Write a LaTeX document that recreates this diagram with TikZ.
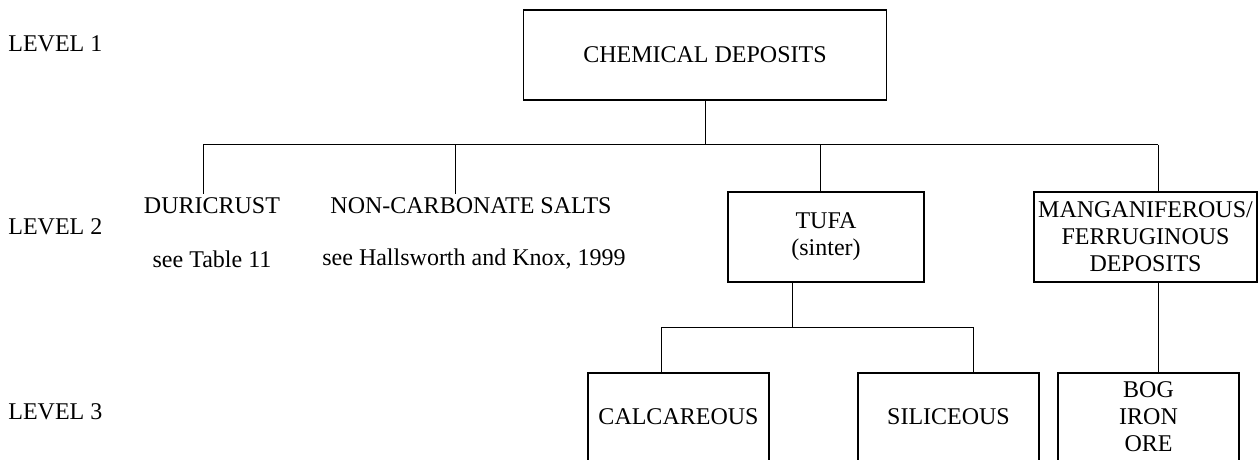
\documentclass[tikz,border=0pt]{standalone}
\usepackage{fontspec}
\setmainfont{Liberation Serif}
\usetikzlibrary{positioning, calc}

\begin{document}
\begin{tikzpicture}[
    x=0.5pt, y=-0.5pt,
    font=\fontsize{12}{13.5}\selectfont,
    box/.style  = {draw=black, line width=0.6pt, align=center, inner sep=0pt, minimum height=45pt},
    lbox/.style = {box, minimum width=90.5pt, minimum height=44pt},
    link/.style = {draw=black, line width=0.5pt},
    lvl/.style  = {anchor=west, inner sep=0pt},
    txt/.style  = {align=center, inner sep=2pt}
  ]
  \useasboundingbox (0,0) rectangle (1258,460);
  \clip (0,0) rectangle (1258,460);

  % --- level tags (left) ---
  \node[lvl] (L1) at (8,44)  {LEVEL 1};
  \node[lvl] (L2) at (8,227) {LEVEL 2};
  \node[lvl] (L3) at (8,412) {LEVEL 3};

  % --- level 1 ---
  \node[box, minimum width=181.5pt] (chem) at (705,55) {CHEMICAL DEPOSITS};

  % --- level 2 ---
  \node[txt] (dur)     at (212,206) {DURICRUST};
  \node[txt] (durref)  at (212,259) {see Table 11};
  \node[txt] (salt)    at (471,206) {NON-CARBONATE SALTS};
  \node[txt] (saltref) at (474,259) {see Hallsworth and Knox, 1999};
  \node[box, minimum width=98pt]    (tufa) at (826,237)    {TUFA\\(sinter)};
  \node[box, minimum width=111.5pt] (mang) at (1145.5,237) {MANGANIFEROUS/\\FERRUGINOUS\\DEPOSITS};

  % --- level 3 ---
  \node[lbox] (calc) at (678.5,417)  {CALCAREOUS};
  \node[lbox] (sili) at (948.5,417)  {SILICEOUS};
  \node[lbox] (bog)  at (1148.5,417) {BOG\\IRON\\ORE};

  % --- junctions ---
  \coordinate (bus) at (705,145);
  \coordinate (d1) at (203,145);
  \coordinate (d2) at (455,145);
  \coordinate (d3) at (820,145);
  \coordinate (d4) at (1158,145);
  \coordinate (sub) at (792,327);
  \coordinate (s1) at (661,327);
  \coordinate (s2) at (973,327);

  % --- level 1 -> level 2 ---
  \draw[link] (chem) -- (bus);
  \draw[link] (d1) -- (d4);
  \draw[link] (d1) -- (d1 |- dur.north);
  \draw[link] (d2) -- (d2 |- salt.north);
  \draw[link] (d3) -- (d3 |- tufa.north);
  \draw[link] (d4) -- (d4 |- mang.north);

  % --- level 2 -> level 3 ---
  \draw[link] (tufa.south -| sub) -- (sub);
  \draw[link] (s1) -- (s2);
  \draw[link] (s1) -- (s1 |- calc.north);
  \draw[link] (s2) -- (s2 |- sili.north);
  \draw[link] (mang.south -| d4) -- (d4 |- bog.north);

\end{tikzpicture}
\end{document}
